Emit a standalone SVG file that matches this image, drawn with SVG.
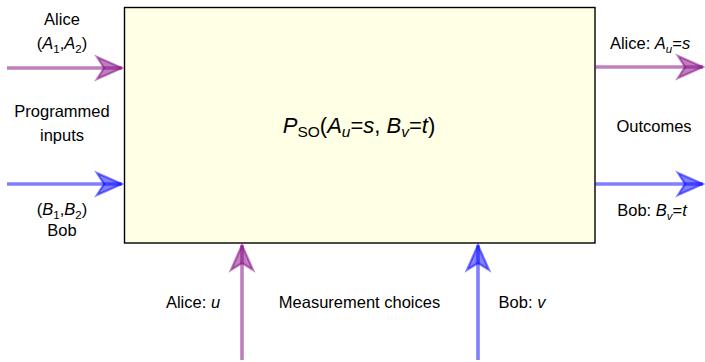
<svg xmlns="http://www.w3.org/2000/svg" width="705" height="362" viewBox="0 0 705 362">
<defs>
<style>
text{font-family:"Liberation Sans",Arial,sans-serif;font-size:16.5px;fill:#000;text-anchor:middle}
.big{font-size:22px}
.pl{fill:none;stroke:#800080;stroke-opacity:0.5;stroke-width:3.6}
.bl{fill:none;stroke:#0000FF;stroke-opacity:0.5;stroke-width:3.6}
</style>
<marker id="mp" markerUnits="userSpaceOnUse" markerWidth="32" markerHeight="28" viewBox="-29 -14 32 28" refX="0" refY="0" orient="auto" overflow="visible">
<path d="M0,0 L-25,-11 L-18,0 L-25,11 Z" fill="#800080" fill-opacity="0.5" stroke="#800080" stroke-opacity="0.5" stroke-width="2.2" stroke-linejoin="miter"/>
</marker>
<marker id="mb" markerUnits="userSpaceOnUse" markerWidth="32" markerHeight="28" viewBox="-29 -14 32 28" refX="0" refY="0" orient="auto" overflow="visible">
<path d="M0,0 L-25,-11 L-18,0 L-25,11 Z" fill="#0000FF" fill-opacity="0.5" stroke="#0000FF" stroke-opacity="0.5" stroke-width="2.2" stroke-linejoin="miter"/>
</marker>
</defs>
<g id="box">
<rect x="124.5" y="7.5" width="470.5" height="235.5" fill="#FFFFE6" stroke="#000" stroke-width="1.4"/>
<text class="big" x="359" y="133"><tspan font-style="italic">P</tspan><tspan font-size="15.5" dy="4">SO</tspan><tspan dy="-4">(</tspan><tspan font-style="italic">A</tspan><tspan font-style="italic" font-size="15.5" dy="4">u</tspan><tspan dy="-4">=</tspan><tspan font-style="italic">s</tspan>, <tspan font-style="italic">B</tspan><tspan font-style="italic" font-size="15.5" dy="4">v</tspan><tspan dy="-4">=</tspan><tspan font-style="italic">t</tspan>)</text>
</g>
<g id="connectors">
<path class="pl" d="M7,68 H122" marker-end="url(#mp)"/>
<path class="bl" d="M7,184 H122" marker-end="url(#mb)"/>
<path class="pl" d="M595,67 H703" marker-end="url(#mp)"/>
<path class="bl" d="M595,184 H703" marker-end="url(#mb)"/>
<path class="pl" d="M242,360 V245" marker-end="url(#mp)"/>
<path class="bl" d="M478,360 V245" marker-end="url(#mb)"/>
</g>
<g id="labels">
<text x="62" y="25">Alice</text>
<text x="62" y="49">(<tspan font-style="italic">A</tspan><tspan font-size="11.5" dy="4">1</tspan><tspan dy="-4">,</tspan><tspan font-style="italic">A</tspan><tspan font-size="11.5" dy="4">2</tspan><tspan dy="-4">)</tspan></text>
<text x="62" y="117">Programmed</text>
<text x="62" y="141">inputs</text>
<text x="62" y="215">(<tspan font-style="italic">B</tspan><tspan font-size="11.5" dy="4">1</tspan><tspan dy="-4">,</tspan><tspan font-style="italic">B</tspan><tspan font-size="11.5" dy="4">2</tspan><tspan dy="-4">)</tspan></text>
<text x="62" y="236">Bob</text>
<text x="650" y="49">Alice: <tspan font-style="italic">A</tspan><tspan font-style="italic" font-size="11.5" dy="4">u</tspan><tspan dy="-4">=</tspan><tspan font-style="italic">s</tspan></text>
<text x="654" y="132">Outcomes</text>
<text x="652" y="216">Bob: <tspan font-style="italic">B</tspan><tspan font-style="italic" font-size="11.5" dy="4">v</tspan><tspan dy="-4">=</tspan><tspan font-style="italic">t</tspan></text>
<text x="193" y="308">Alice: <tspan font-style="italic">u</tspan></text>
<text x="359.5" y="308">Measurement choices</text>
<text x="522" y="308">Bob: <tspan font-style="italic">v</tspan></text>
</g>
</svg>
